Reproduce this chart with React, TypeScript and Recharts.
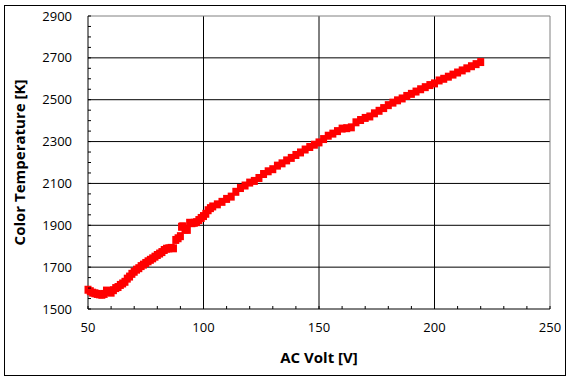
import { ScatterChart, Scatter, XAxis, YAxis, CartesianGrid, ReferenceLine } from "recharts";

// AC volt readings [V]
const volts = [
  50, 51, 52, 53, 54, 55, 56, 57, 58, 59, 60, 61, 62, 63, 64, 65, 66, 67, 68, 69,
  70, 71, 72, 73, 74, 75, 76, 77, 78, 79, 80, 81, 82, 83, 84, 85, 86, 87, 88, 89,
  90, 90.5, 91, 92, 93, 94, 95, 96, 97, 98, 99, 100, 101, 102, 103, 104, 106, 108, 110, 112,
  114, 116, 118, 120, 122, 124, 126, 128, 130, 132, 134, 136, 138, 140, 142, 144, 146, 148, 150, 152,
  154, 156, 158, 160, 162, 164, 166, 168, 170, 172, 174, 176, 178, 180, 182, 184, 186, 188, 190, 192,
  194, 196, 198, 200, 202, 204, 206, 208, 210, 212, 214, 216, 218, 220,
];

// colour temperature [K]
const kelvin = [
  1592, 1585, 1578, 1575, 1572, 1570, 1568, 1572, 1588, 1582, 1578, 1590, 1600, 1605, 1615, 1622, 1630, 1645, 1655, 1668,
  1678, 1688, 1695, 1705, 1712, 1720, 1728, 1735, 1742, 1750, 1758, 1765, 1772, 1782, 1788, 1790, 1792, 1790, 1830, 1838,
  1848, 1893, 1895, 1880, 1878, 1912, 1910, 1912, 1915, 1925, 1935, 1944, 1955, 1972, 1982, 1990, 2000, 2012, 2026, 2037,
  2060, 2078, 2090, 2104, 2112, 2126, 2145, 2158, 2168, 2185, 2196, 2210, 2222, 2236, 2248, 2262, 2274, 2285, 2296, 2312,
  2328, 2338, 2350, 2362, 2364, 2368, 2392, 2403, 2413, 2420, 2435, 2447, 2460, 2474, 2486, 2497, 2506, 2518, 2528, 2539,
  2550, 2560, 2570, 2578, 2592, 2600, 2610, 2620, 2630, 2640, 2650, 2660, 2670, 2680,
];

const xTicks = [50, 60, 70, 80, 90, 100, 110, 120, 130, 140, 150, 160, 170, 180, 190, 200, 210, 220, 230, 240, 250];
const yTicks = [1500, 1550, 1600, 1650, 1700, 1750, 1800, 1850, 1900, 1950, 2000, 2050, 2100, 2150, 2200, 2250, 2300, 2350, 2400, 2450, 2500, 2550, 2600, 2650, 2700, 2750, 2800, 2850, 2900];
const xGrid = [100, 150, 200];
const yGrid = [1700, 1900, 2100, 2300, 2500, 2700];

const data = volts.map((v, i) => ({ v, k: kelvin[i] }));

const FONT = "'Open Sans', 'DejaVu Sans', sans-serif";

// y tick: label every 200, short inward tick every 50
function YTick(props: any) {
  const { x, y, payload } = props;
  const axisX = x + 16;
  const major = payload.value % 200 === 100;
  return (
    <g>
      <line x1={axisX} x2={axisX + 3} y1={y} y2={y} stroke="#000" />
      {major && (
        <text x={x} y={y} dy={4.5} textAnchor="end" fontSize={13} fill="#000" fontFamily={FONT}>
          {payload.value}
        </text>
      )}
    </g>
  );
}

function XTick(props: any) {
  const { x, y, payload } = props;
  const axisY = y - 16;
  const major = payload.value % 50 === 0;
  return (
    <g>
      <line x1={x} x2={x} y1={axisY} y2={axisY - 3} stroke="#000" />
      {major && (
        <text x={x} y={axisY} dy={23} textAnchor="middle" fontSize={13} fill="#000" fontFamily={FONT}>
          {payload.value}
        </text>
      )}
    </g>
  );
}

function Marker(props: any) {
  const { cx, cy } = props;
  return <rect x={cx - 3.5} y={cy - 4} width={7} height={8} fill="#FF0000" />;
}

export default function App() {
  return (
    <div
      style={{
        position: "fixed",
        left: 4,
        top: 5,
        width: 562,
        height: 371,
        boxSizing: "border-box",
        border: "1px solid #000",
        background: "#fff",
      }}
    >
      <ScatterChart width={560} height={369} margin={{ top: 10, right: 15, left: 0, bottom: 0 }}>
        <CartesianGrid
          stroke="#000"
          horizontalValues={yGrid}
          verticalValues={xGrid}
        />
        <XAxis
          type="number"
          dataKey="v"
          domain={[50, 250]}
          ticks={xTicks}
          interval={0}
          height={66}
          tickSize={0}
          tickMargin={16}
          tick={<XTick />}
          axisLine={{ stroke: "#000" }}
          tickLine={false}
          label={{
            value: "AC Volt [V]",
            position: "insideBottom",
            offset: 12,
            style: { fontFamily: FONT, fontSize: 15, fontWeight: 700, fill: "#000" },
          }}
        />
        <YAxis
          type="number"
          dataKey="k"
          domain={[1500, 2900]}
          ticks={yTicks}
          interval={0}
          width={83}
          tickSize={0}
          tickMargin={16}
          tick={<YTick />}
          axisLine={{ stroke: "#000" }}
          tickLine={false}
          label={{
            value: "Color Temperature [K]",
            angle: -90,
            position: "insideLeft",
            offset: 15,
            style: { fontFamily: FONT, fontSize: 15, fontWeight: 700, fill: "#000", textAnchor: "middle" },
          }}
        />
        <ReferenceLine y={2900} stroke="#808080" />
        <ReferenceLine x={250} stroke="#808080" />
        <Scatter data={data} shape={<Marker />} isAnimationActive={false} />
      </ScatterChart>
    </div>
  );
}
